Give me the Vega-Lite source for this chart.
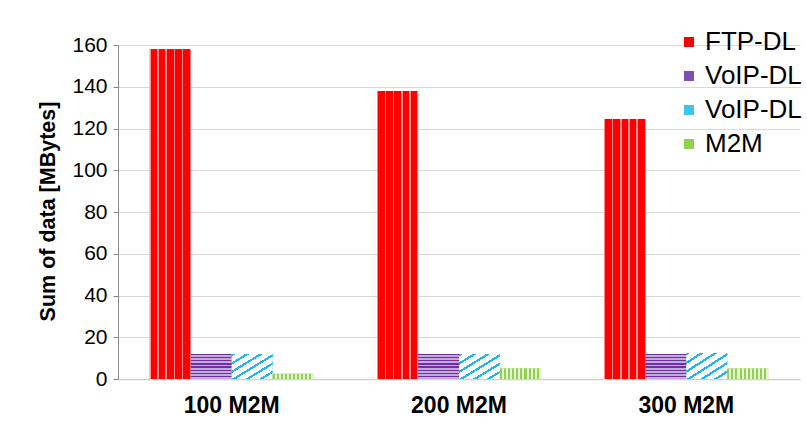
{
  "$schema": "https://vega.github.io/schema/vega-lite/v6.json",
  "width": 682,
  "height": 334,
  "autosize": {"type": "none"},
  "padding": {"left": 118, "top": 45, "right": 7, "bottom": 65},
  "background": "white",
  "config": {
    "font": "Liberation Sans",
    "view": {"stroke": null},
    "axis": {"labelFont": "Liberation Sans", "titleFont": "Liberation Sans", "labelColor": "#000000", "titleColor": "#000000"}
  },
  "data": {
    "values": [
      {"group": "100 M2M", "series": "FTP-DL", "value": 158},
      {"group": "100 M2M", "series": "VoIP-DL", "value": 12},
      {"group": "100 M2M", "series": "VoIP-DL2", "value": 12},
      {"group": "100 M2M", "series": "M2M", "value": 2.5},
      {"group": "200 M2M", "series": "FTP-DL", "value": 138},
      {"group": "200 M2M", "series": "VoIP-DL", "value": 12},
      {"group": "200 M2M", "series": "VoIP-DL2", "value": 12},
      {"group": "200 M2M", "series": "M2M", "value": 5},
      {"group": "300 M2M", "series": "FTP-DL", "value": 124.5},
      {"group": "300 M2M", "series": "VoIP-DL", "value": 12},
      {"group": "300 M2M", "series": "VoIP-DL2", "value": 12.5},
      {"group": "300 M2M", "series": "M2M", "value": 5}
    ]
  },
  "encoding": {
    "x": {
      "field": "group", "type": "nominal", "title": null,
      "scale": {"paddingInner": 0.28, "paddingOuter": 0.14},
      "axis": {"labelAngle": 0, "labelFontSize": 23, "labelFontWeight": "bold", "ticks": false, "labelPadding": 15, "domainColor": "#D0D0D0", "domainWidth": 1.5}
    },
    "xOffset": {"field": "series", "type": "nominal", "sort": ["FTP-DL", "VoIP-DL", "VoIP-DL2", "M2M"], "scale": {"paddingInner": 0, "paddingOuter": 0}},
    "y": {
      "field": "value", "type": "quantitative", "title": "Sum of data [MBytes]",
      "scale": {"domain": [0, 160], "nice": false},
      "axis": {"values": [0, 20, 40, 60, 80, 100, 120, 140, 160], "labelFontSize": 21, "titleFontSize": 21.5, "titleFontWeight": "bold", "titlePadding": 12, "titleY": 166, "titleAlign": "center", "labelPadding": 6, "tickSize": 5, "tickColor": "#888888", "domainColor": "#888888", "gridColor": "#D9D9D9", "grid": true}
    }
  },
  "layer": [
    {
      "mark": {"type": "bar"},
      "encoding": {
        "color": {
          "field": "series", "type": "nominal",
          "sort": ["FTP-DL", "VoIP-DL", "VoIP-DL2", "M2M"],
          "scale": {"domain": ["FTP-DL", "VoIP-DL", "VoIP-DL2", "M2M"], "range": ["#FF0000", "#7F4FB5", "#3FC3F2", "#92D050"]},
          "legend": {
            "title": null, "orient": "none", "legendX": 558, "legendY": -16,
            "labelFontSize": 26, "labelFont": "Liberation Sans", "symbolType": "square", "symbolSize": 100,
            "rowPadding": 8, "labelOffset": 3, "symbolStrokeWidth": 0, "labelLimit": 300,
            "labelExpr": "datum.label === 'VoIP-DL2' ? 'VoIP-DL' : datum.label"
          }
        }
      }
    },
    {
      "transform": [{"filter": "datum.series === 'FTP-DL'"}],
      "mark": {"type": "bar", "fill": {"gradient": "linear", "x1": 0, "y1": 0, "x2": 1, "y2": 0, "stops": [
        {"offset": 0, "color": "#FF9090"}, {"offset": 0.02, "color": "#FF9090"}, {"offset": 0.02, "color": "#FF0000"}, {"offset": 0.18, "color": "#FF0000"},
        {"offset": 0.18, "color": "#FF9090"}, {"offset": 0.22, "color": "#FF9090"}, {"offset": 0.22, "color": "#FF0000"}, {"offset": 0.38, "color": "#FF0000"},
        {"offset": 0.38, "color": "#FF9090"}, {"offset": 0.42, "color": "#FF9090"}, {"offset": 0.42, "color": "#FF0000"}, {"offset": 0.58, "color": "#FF0000"},
        {"offset": 0.58, "color": "#FF9090"}, {"offset": 0.62, "color": "#FF9090"}, {"offset": 0.62, "color": "#FF0000"}, {"offset": 0.78, "color": "#FF0000"},
        {"offset": 0.78, "color": "#FF9090"}, {"offset": 0.82, "color": "#FF9090"}, {"offset": 0.82, "color": "#FF0000"}, {"offset": 0.98, "color": "#FF0000"},
        {"offset": 0.98, "color": "#FF9090"}, {"offset": 1, "color": "#FF9090"}
      ]}}
    },
    {
      "transform": [{"filter": "datum.series === 'VoIP-DL'"}],
      "mark": {"type": "bar", "fill": {"gradient": "linear", "x1": 0, "y1": 0, "x2": 0, "y2": 1, "stops": [
        {"offset": 0, "color": "#7030A0"}, {"offset": 0.05, "color": "#7030A0"}, {"offset": 0.05, "color": "#C3ACDC"}, {"offset": 0.125, "color": "#C3ACDC"},
        {"offset": 0.125, "color": "#7030A0"}, {"offset": 0.175, "color": "#7030A0"}, {"offset": 0.175, "color": "#C3ACDC"}, {"offset": 0.25, "color": "#C3ACDC"},
        {"offset": 0.25, "color": "#7030A0"}, {"offset": 0.3, "color": "#7030A0"}, {"offset": 0.3, "color": "#C3ACDC"}, {"offset": 0.375, "color": "#C3ACDC"},
        {"offset": 0.375, "color": "#7030A0"}, {"offset": 0.425, "color": "#7030A0"}, {"offset": 0.425, "color": "#C3ACDC"}, {"offset": 0.5, "color": "#C3ACDC"},
        {"offset": 0.5, "color": "#7030A0"}, {"offset": 0.55, "color": "#7030A0"}, {"offset": 0.55, "color": "#C3ACDC"}, {"offset": 0.625, "color": "#C3ACDC"},
        {"offset": 0.625, "color": "#7030A0"}, {"offset": 0.675, "color": "#7030A0"}, {"offset": 0.675, "color": "#C3ACDC"}, {"offset": 0.75, "color": "#C3ACDC"},
        {"offset": 0.75, "color": "#7030A0"}, {"offset": 0.8, "color": "#7030A0"}, {"offset": 0.8, "color": "#C3ACDC"}, {"offset": 0.875, "color": "#C3ACDC"},
        {"offset": 0.875, "color": "#7030A0"}, {"offset": 0.925, "color": "#7030A0"}, {"offset": 0.925, "color": "#C3ACDC"}, {"offset": 1, "color": "#C3ACDC"}
      ]}}
    },
    {
      "transform": [{"filter": "datum.series === 'VoIP-DL2'"}],
      "mark": {"type": "bar", "fill": {"gradient": "linear", "x1": 0, "y1": 0, "x2": 1, "y2": 1, "stops": [
        {"offset": 0, "color": "#1FB5EE"}, {"offset": 0.05, "color": "#1FB5EE"}, {"offset": 0.05, "color": "#FFFFFF"}, {"offset": 0.1667, "color": "#FFFFFF"},
        {"offset": 0.1667, "color": "#1FB5EE"}, {"offset": 0.2167, "color": "#1FB5EE"}, {"offset": 0.2167, "color": "#FFFFFF"}, {"offset": 0.3333, "color": "#FFFFFF"},
        {"offset": 0.3333, "color": "#1FB5EE"}, {"offset": 0.3833, "color": "#1FB5EE"}, {"offset": 0.3833, "color": "#FFFFFF"}, {"offset": 0.5, "color": "#FFFFFF"},
        {"offset": 0.5, "color": "#1FB5EE"}, {"offset": 0.55, "color": "#1FB5EE"}, {"offset": 0.55, "color": "#FFFFFF"}, {"offset": 0.6667, "color": "#FFFFFF"},
        {"offset": 0.6667, "color": "#1FB5EE"}, {"offset": 0.7167, "color": "#1FB5EE"}, {"offset": 0.7167, "color": "#FFFFFF"}, {"offset": 0.8333, "color": "#FFFFFF"},
        {"offset": 0.8333, "color": "#1FB5EE"}, {"offset": 0.8833, "color": "#1FB5EE"}, {"offset": 0.8833, "color": "#FFFFFF"}, {"offset": 1, "color": "#FFFFFF"}
      ]}}
    },
    {
      "transform": [{"filter": "datum.series === 'M2M'"}],
      "mark": {"type": "bar", "fill": {"gradient": "linear", "x1": 0, "y1": 0, "x2": 1, "y2": 0, "stops": [
        {"offset": 0, "color": "#92D050"}, {"offset": 0.05, "color": "#92D050"}, {"offset": 0.05, "color": "#E6F3D8"}, {"offset": 0.1, "color": "#E6F3D8"},
        {"offset": 0.1, "color": "#92D050"}, {"offset": 0.15, "color": "#92D050"}, {"offset": 0.15, "color": "#E6F3D8"}, {"offset": 0.2, "color": "#E6F3D8"},
        {"offset": 0.2, "color": "#92D050"}, {"offset": 0.25, "color": "#92D050"}, {"offset": 0.25, "color": "#E6F3D8"}, {"offset": 0.3, "color": "#E6F3D8"},
        {"offset": 0.3, "color": "#92D050"}, {"offset": 0.35, "color": "#92D050"}, {"offset": 0.35, "color": "#E6F3D8"}, {"offset": 0.4, "color": "#E6F3D8"},
        {"offset": 0.4, "color": "#92D050"}, {"offset": 0.45, "color": "#92D050"}, {"offset": 0.45, "color": "#E6F3D8"}, {"offset": 0.5, "color": "#E6F3D8"},
        {"offset": 0.5, "color": "#92D050"}, {"offset": 0.55, "color": "#92D050"}, {"offset": 0.55, "color": "#E6F3D8"}, {"offset": 0.6, "color": "#E6F3D8"},
        {"offset": 0.6, "color": "#92D050"}, {"offset": 0.65, "color": "#92D050"}, {"offset": 0.65, "color": "#E6F3D8"}, {"offset": 0.7, "color": "#E6F3D8"},
        {"offset": 0.7, "color": "#92D050"}, {"offset": 0.75, "color": "#92D050"}, {"offset": 0.75, "color": "#E6F3D8"}, {"offset": 0.8, "color": "#E6F3D8"},
        {"offset": 0.8, "color": "#92D050"}, {"offset": 0.85, "color": "#92D050"}, {"offset": 0.85, "color": "#E6F3D8"}, {"offset": 0.9, "color": "#E6F3D8"},
        {"offset": 0.9, "color": "#92D050"}, {"offset": 0.95, "color": "#92D050"}, {"offset": 0.95, "color": "#E6F3D8"}, {"offset": 1, "color": "#E6F3D8"}
      ]}}
    }
  ]
}
